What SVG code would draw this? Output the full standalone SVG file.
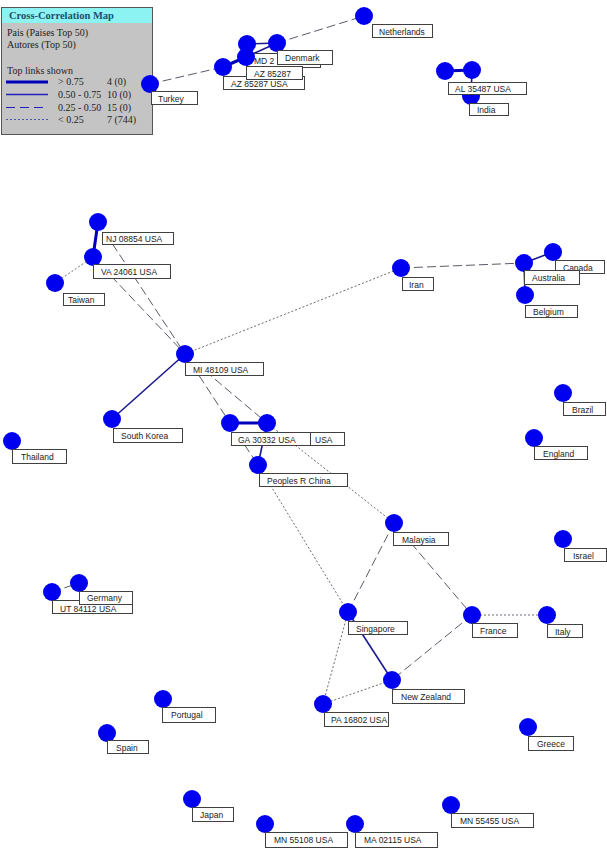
<svg xmlns="http://www.w3.org/2000/svg" width="607" height="855" viewBox="0 0 607 855">
<style>
.n{fill:#0000f0}
.lb{fill:#fff;stroke:#404040;stroke-width:1}
.t{font-family:"Liberation Sans",Arial,sans-serif;font-size:8.5px;fill:#222}
.lg{font-family:"Liberation Serif","Times New Roman",serif;font-size:10px;fill:#222}
.thick{stroke:#0000b8;stroke-width:3;fill:none}
.med{stroke:#1a1a90;stroke-width:1.6;fill:none}
.dash{stroke:#5a5a6a;stroke-width:1;stroke-dasharray:9,4;fill:none}
.dot{stroke:#6a6a7a;stroke-width:1;stroke-dasharray:2,2;fill:none}
</style>
<rect width="607" height="855" fill="#fff"/>
<g id="legend">
<rect x="1.5" y="7.5" width="151" height="127" fill="#c4c4c4" stroke="#555"/>
<rect x="2" y="8" width="150" height="15" fill="#8cf2f2"/>
<text x="9" y="19" class="lg" style="font-weight:bold;fill:#1d4f6e;font-size:10.5px">Cross-Correlation Map</text>
<text x="7" y="36" class="lg">Pais (Paises Top 50)</text>
<text x="7" y="48" class="lg">Autores (Top 50)</text>
<text x="7" y="74" class="lg">Top links shown</text>
<line x1="6" y1="82" x2="48" y2="82" stroke="#0000b8" stroke-width="3"/>
<line x1="6" y1="94.5" x2="48" y2="94.5" stroke="#2020c0" stroke-width="1.5"/>
<line x1="6" y1="107.5" x2="48" y2="107.5" stroke="#2020c0" stroke-width="1" stroke-dasharray="9,5"/>
<line x1="6" y1="119.5" x2="48" y2="119.5" stroke="#5050c0" stroke-width="1" stroke-dasharray="2,2"/>
<text x="58" y="85" class="lg">&gt; 0.75</text><text x="107" y="85" class="lg">4 (0)</text>
<text x="58" y="98" class="lg">0.50 - 0.75</text><text x="107" y="98" class="lg">10 (0)</text>
<text x="58" y="111" class="lg">0.25 - 0.50</text><text x="107" y="111" class="lg">15 (0)</text>
<text x="58" y="123" class="lg">&lt; 0.25</text><text x="107" y="123" class="lg">7 (744)</text>
</g>
<g id="links">
<line class="dash" x1="150" y1="84" x2="223" y2="67"/>
<line class="dash" x1="277" y1="43" x2="364" y2="16"/>
<line class="thick" x1="223" y1="67" x2="246" y2="57"/>
<line class="med" x1="246" y1="57" x2="277" y2="43"/>
<line class="med" x1="247" y1="44" x2="277" y2="43"/>
<line class="thick" x1="445" y1="71" x2="472" y2="70"/>
<line class="med" x1="472" y1="70" x2="471" y2="96"/>
<line class="thick" x1="98" y1="222" x2="93" y2="257"/>
<line class="dot" x1="93" y1="257" x2="55" y2="283"/>
<line class="dash" x1="98" y1="222" x2="185" y2="354"/>
<line class="dash" x1="93" y1="257" x2="185" y2="354"/>
<line class="dot" x1="401" y1="268" x2="185" y2="354"/>
<line class="dash" x1="401" y1="268" x2="524" y2="263"/>
<line class="med" x1="524" y1="263" x2="553" y2="252"/>
<line class="med" x1="524" y1="263" x2="525" y2="295"/>
<line class="med" x1="185" y1="354" x2="112" y2="419"/>
<line class="dash" x1="185" y1="354" x2="230" y2="423"/>
<line class="dash" x1="185" y1="354" x2="267" y2="423"/>
<line class="thick" x1="230" y1="423" x2="267" y2="423"/>
<line class="med" x1="267" y1="423" x2="258" y2="465"/>
<line class="dash" x1="230" y1="423" x2="258" y2="465"/>
<line class="dot" x1="267" y1="423" x2="394" y2="523"/>
<line class="dot" x1="258" y1="465" x2="348" y2="612"/>
<line class="dash" x1="394" y1="523" x2="348" y2="612"/>
<line class="dash" x1="394" y1="523" x2="472" y2="615"/>
<line class="dot" x1="472" y1="615" x2="547" y2="615"/>
<line class="dash" x1="472" y1="615" x2="392" y2="680"/>
<line class="med" x1="348" y1="612" x2="392" y2="680"/>
<line class="dot" x1="348" y1="612" x2="323" y2="704"/>
<line class="dot" x1="323" y1="704" x2="392" y2="680"/>
<line class="dash" x1="52" y1="592" x2="79" y2="583"/>
</g>
<g id="n-turkey"><circle class="n" cx="150" cy="84" r="9"/><rect class="lb" x="151.5" y="91.5" width="46" height="13"/><text class="t" x="158" y="101.5">Turkey</text></g>
<g id="n-netherlands"><circle class="n" cx="364" cy="16" r="9"/><rect class="lb" x="372.5" y="24.5" width="60" height="13"/><text class="t" x="379" y="34.5">Netherlands</text></g>
<g id="n-az85287usa"><circle class="n" cx="223" cy="67" r="9"/><rect class="lb" x="223.5" y="76.5" width="81" height="13"/><text class="t" x="231" y="86.5">AZ 85287 USA</text></g>
<g id="n-md"><circle class="n" cx="247" cy="44" r="9"/><rect class="lb" x="247.5" y="53.5" width="73" height="14"/><text class="t" x="254" y="63.5">MD 2</text></g>
<g id="n-denmark"><circle class="n" cx="277" cy="43" r="9"/><rect class="lb" x="277.5" y="50.5" width="55" height="14"/><text class="t" x="285" y="60.5">Denmark</text></g>
<g id="n-az85287"><circle class="n" cx="246" cy="57" r="9"/><rect class="lb" x="246.5" y="66.5" width="56" height="13"/><text class="t" x="254" y="76.5">AZ 85287</text></g>
<g id="n-india"><circle class="n" cx="471" cy="96" r="9"/><rect class="lb" x="469.5" y="103.5" width="39" height="12"/><text class="t" x="477" y="112.5">India</text></g>
<g id="n-al2"><circle class="n" cx="472" cy="70" r="9"/></g>
<g id="n-al35487usa"><circle class="n" cx="445" cy="71" r="9"/><rect class="lb" x="448.5" y="82.5" width="78" height="12"/><text class="t" x="455" y="91.5">AL 35487 USA</text></g>
<g id="n-nj"><circle class="n" cx="98" cy="222" r="9"/><rect class="lb" x="102.5" y="232.5" width="71" height="12"/><text class="t" x="106" y="241.5">NJ 08854 USA</text></g>
<g id="n-va"><circle class="n" cx="93" cy="257" r="9"/><rect class="lb" x="93.5" y="264.5" width="77" height="14"/><text class="t" x="101" y="274.5">VA 24061 USA</text></g>
<g id="n-taiwan"><circle class="n" cx="55" cy="283" r="9"/><rect class="lb" x="63.5" y="293.5" width="41" height="12"/><text class="t" x="68" y="302.5">Taiwan</text></g>
<g id="n-iran"><circle class="n" cx="401" cy="268" r="9"/><rect class="lb" x="402.5" y="277.5" width="31" height="13"/><text class="t" x="409" y="287.5">Iran</text></g>
<g id="n-canada"><circle class="n" cx="553" cy="252" r="9"/><rect class="lb" x="555.5" y="260.5" width="49" height="13"/><text class="t" x="563" y="270.5">Canada</text></g>
<g id="n-australia"><circle class="n" cx="524" cy="263" r="9"/><rect class="lb" x="524.5" y="270.5" width="55" height="14"/><text class="t" x="532" y="280.5">Australia</text></g>
<g id="n-belgium"><circle class="n" cx="525" cy="295" r="9"/><rect class="lb" x="525.5" y="305.5" width="52" height="12"/><text class="t" x="533" y="314.5">Belgium</text></g>
<g id="n-mi"><circle class="n" cx="185" cy="354" r="9"/><rect class="lb" x="185.5" y="362.5" width="78" height="13"/><text class="t" x="193" y="372.5">MI 48109 USA</text></g>
<g id="n-southkorea"><circle class="n" cx="112" cy="419" r="9"/><rect class="lb" x="113.5" y="428.5" width="69" height="14"/><text class="t" x="121" y="438.5">South Korea</text></g>
<g id="n-ga2"><circle class="n" cx="267" cy="423" r="9"/><rect class="lb" x="267.5" y="432.5" width="77" height="13"/><text class="t" x="315" y="442.5">USA</text></g>
<g id="n-ga30332"><circle class="n" cx="230" cy="423" r="9"/><rect class="lb" x="231.5" y="432.5" width="79" height="13"/><text class="t" x="238" y="442.5">GA 30332 USA</text></g>
<g id="n-china"><circle class="n" cx="258" cy="465" r="9"/><rect class="lb" x="259.5" y="473.5" width="88" height="13"/><text class="t" x="267" y="483.5">Peoples R China</text></g>
<g id="n-thailand"><circle class="n" cx="12" cy="441" r="9"/><rect class="lb" x="12.5" y="449.5" width="54" height="14"/><text class="t" x="21" y="459.5">Thailand</text></g>
<g id="n-brazil"><circle class="n" cx="563" cy="393" r="9"/><rect class="lb" x="563.5" y="402.5" width="42" height="13"/><text class="t" x="572" y="412.5">Brazil</text></g>
<g id="n-england"><circle class="n" cx="534" cy="438" r="9"/><rect class="lb" x="534.5" y="446.5" width="53" height="13"/><text class="t" x="543" y="456.5">England</text></g>
<g id="n-malaysia"><circle class="n" cx="394" cy="523" r="9"/><rect class="lb" x="393.5" y="532.5" width="55" height="13"/><text class="t" x="402" y="542.5">Malaysia</text></g>
<g id="n-israel"><circle class="n" cx="563" cy="539" r="9"/><rect class="lb" x="564.5" y="548.5" width="42" height="13"/><text class="t" x="573" y="558.5">Israel</text></g>
<g id="n-ut"><circle class="n" cx="52" cy="592" r="9"/><rect class="lb" x="52.5" y="600.5" width="80" height="13"/><text class="t" x="60" y="612">UT 84112 USA</text></g>
<g id="n-germany"><circle class="n" cx="79" cy="583" r="9"/><rect class="lb" x="79.5" y="591.5" width="53" height="13"/><text class="t" x="87" y="601">Germany</text></g>
<g id="n-singapore"><circle class="n" cx="348" cy="612" r="9"/><rect class="lb" x="348.5" y="621.5" width="59" height="13"/><text class="t" x="356" y="631.5">Singapore</text></g>
<g id="n-france"><circle class="n" cx="472" cy="615" r="9"/><rect class="lb" x="472.5" y="623.5" width="45" height="14"/><text class="t" x="480" y="633.5">France</text></g>
<g id="n-italy"><circle class="n" cx="547" cy="615" r="9"/><rect class="lb" x="547.5" y="624.5" width="35" height="13"/><text class="t" x="555" y="634.5">Italy</text></g>
<g id="n-newzealand"><circle class="n" cx="392" cy="680" r="9"/><rect class="lb" x="392.5" y="689.5" width="72" height="14"/><text class="t" x="401" y="699.5">New Zealand</text></g>
<g id="n-pa"><circle class="n" cx="323" cy="704" r="9"/><rect class="lb" x="324.5" y="712.5" width="64" height="14"/><text class="t" x="331" y="722.5">PA 16802 USA</text></g>
<g id="n-portugal"><circle class="n" cx="163" cy="699" r="9"/><rect class="lb" x="162.5" y="707.5" width="53" height="15"/><text class="t" x="171" y="718">Portugal</text></g>
<g id="n-spain"><circle class="n" cx="107" cy="733" r="9"/><rect class="lb" x="107.5" y="740.5" width="41" height="13"/><text class="t" x="116" y="750.5">Spain</text></g>
<g id="n-greece"><circle class="n" cx="528" cy="727" r="9"/><rect class="lb" x="528.5" y="736.5" width="45" height="14"/><text class="t" x="537" y="746.5">Greece</text></g>
<g id="n-japan"><circle class="n" cx="192" cy="799" r="9"/><rect class="lb" x="192.5" y="807.5" width="41" height="14"/><text class="t" x="200" y="817.5">Japan</text></g>
<g id="n-mn55108"><circle class="n" cx="265" cy="824" r="9"/><rect class="lb" x="265.5" y="832.5" width="82" height="15"/><text class="t" x="274" y="843">MN 55108 USA</text></g>
<g id="n-ma02115"><circle class="n" cx="355" cy="824" r="9"/><rect class="lb" x="355.5" y="832.5" width="82" height="15"/><text class="t" x="364" y="843">MA 02115 USA</text></g>
<g id="n-mn55455"><circle class="n" cx="451" cy="805" r="9"/><rect class="lb" x="451.5" y="813.5" width="82" height="14"/><text class="t" x="460" y="823.5">MN 55455 USA</text></g>
</svg>
